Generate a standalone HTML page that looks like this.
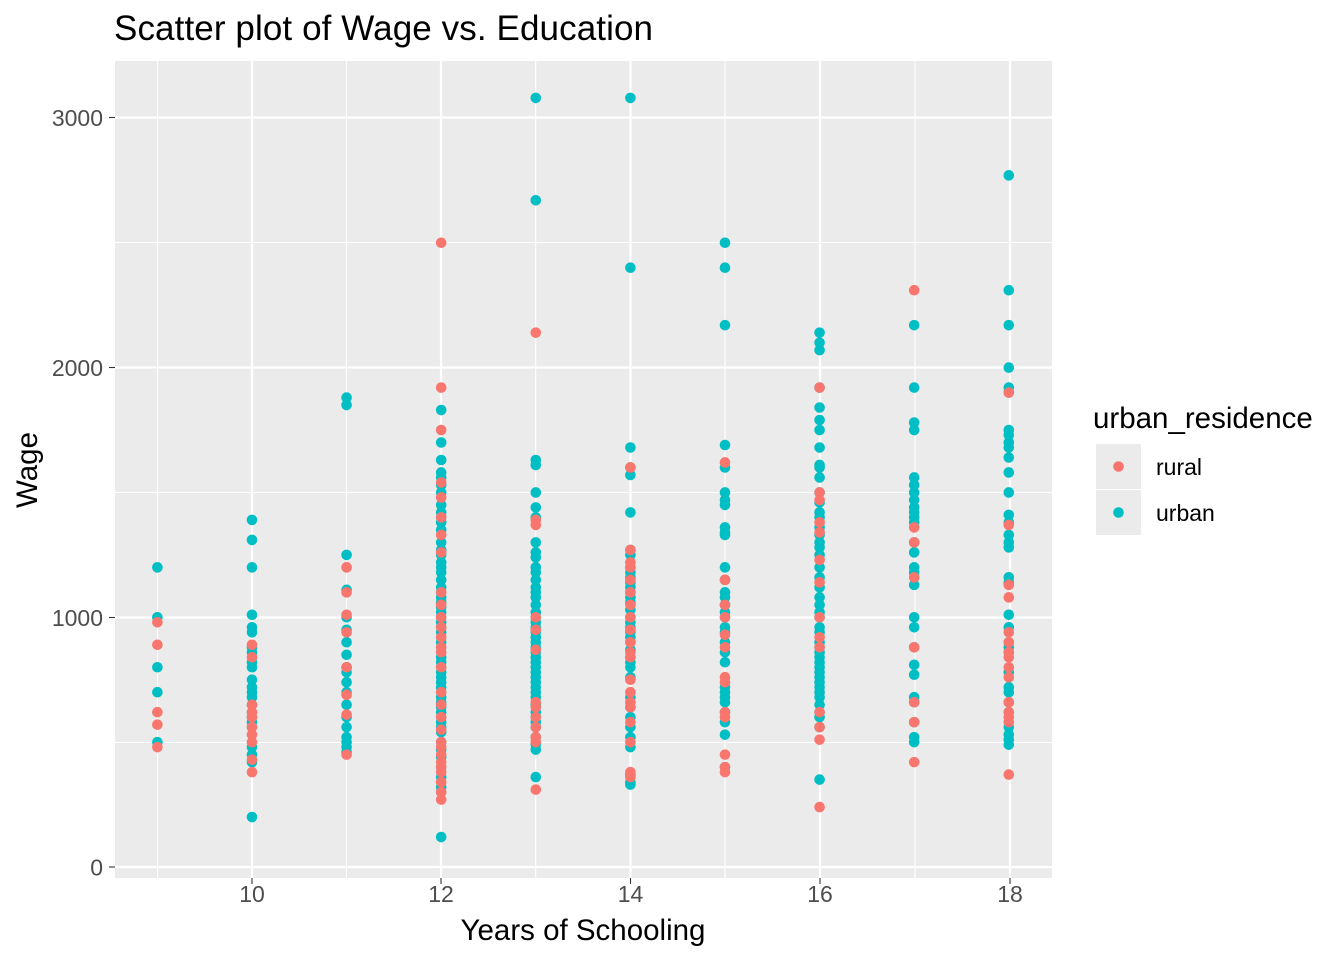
<!DOCTYPE html>
<html><head><meta charset="utf-8"><style>
body{margin:0;background:#fff;}
svg text{font-family:"Liberation Sans",Arial,sans-serif;}
</style></head><body>
<svg id="s" width="1344" height="960" xmlns="http://www.w3.org/2000/svg">
<rect x="0" y="0" width="1344" height="960" fill="#fff"/>
<text x="114" y="40" font-size="35" textLength="539" fill="#000">Scatter plot of Wage vs. Education</text>
<rect x="115" y="61" width="937" height="817" fill="#EBEBEB"/>
<g stroke="#fff" stroke-width="1.1">
<line x1="115" x2="1052" y1="742.5" y2="742.5"/><line x1="115" x2="1052" y1="492.5" y2="492.5"/><line x1="115" x2="1052" y1="242.5" y2="242.5"/>
<line x1="157.5" x2="157.5" y1="61" y2="878"/><line x1="346.5" x2="346.5" y1="61" y2="878"/><line x1="535.7" x2="535.7" y1="61" y2="878"/><line x1="725" x2="725" y1="61" y2="878"/><line x1="915" x2="915" y1="61" y2="878"/>
</g>
<g stroke="#fff" stroke-width="2.2">
<line x1="115" x2="1052" y1="867" y2="867"/><line x1="115" x2="1052" y1="617.5" y2="617.5"/><line x1="115" x2="1052" y1="367.5" y2="367.5"/><line x1="115" x2="1052" y1="117.5" y2="117.5"/>
<line x1="252" x2="252" y1="61" y2="878"/><line x1="441" x2="441" y1="61" y2="878"/><line x1="630.5" x2="630.5" y1="61" y2="878"/><line x1="820" x2="820" y1="61" y2="878"/><line x1="1010" x2="1010" y1="61" y2="878"/>
</g>
<g stroke="#333" stroke-width="1.1">
<line x1="109" x2="115" y1="867" y2="867"/><line x1="109" x2="115" y1="617.5" y2="617.5"/><line x1="109" x2="115" y1="367.5" y2="367.5"/><line x1="109" x2="115" y1="117.5" y2="117.5"/>
<line x1="252" x2="252" y1="878" y2="884"/><line x1="441" x2="441" y1="878" y2="884"/><line x1="630.5" x2="630.5" y1="878" y2="884"/><line x1="820" x2="820" y1="878" y2="884"/><line x1="1010" x2="1010" y1="878" y2="884"/>
</g>
<g font-size="23" fill="#4d4d4d" text-anchor="end">
<text x="103" y="875.5">0</text><text x="103" y="626">1000</text><text x="103" y="376">2000</text><text x="103" y="126">3000</text>
</g>
<g font-size="23" fill="#4d4d4d" text-anchor="middle">
<text x="252" y="902">10</text><text x="441" y="902">12</text><text x="630.5" y="902">14</text><text x="820" y="902">16</text><text x="1010" y="902">18</text>
</g>
<text x="583" y="940" font-size="29.5" text-anchor="middle">Years of Schooling</text>
<text transform="translate(37,470) rotate(-90)" font-size="29.5" text-anchor="middle">Wage</text>
<text x="1093" y="428" font-size="29.5">urban_residence</text>
<rect x="1096" y="444" width="45" height="45" fill="#EBEBEB"/>
<rect x="1096" y="490" width="45" height="45" fill="#EBEBEB"/>
<circle cx="1118.5" cy="466.5" r="5.3" fill="#F8766D"/>
<circle cx="1118.5" cy="512.5" r="5.3" fill="#00BFC4"/>
<text x="1156" y="475" font-size="23">rural</text>
<text x="1156" y="521" font-size="23">urban</text>
<g id="pts"></g>
</svg>
<script>
var U={9:[1200,1000,800,700,500],10:[1390,1310,1200,1010,960,940,880,860,820,800,750,720,700,680,650,620,600,580,560,480,450,420,200],11:[1880,1850,1250,1110,1000,950,900,850,800,780,740,700,650,600,560,520,500,480,460],12:[1830,1700,1630,1580,1560,1530,1500,1450,1420,1400,1380,1350,1300,1270,1250,1220,1200,1180,1150,1120,1100,1080,1060,1040,1020,1000,980,960,940,920,900,880,860,840,820,800,780,760,740,720,700,680,660,640,620,600,580,560,540,500,470,440,400,360,320,300,120],13:[3080,2670,1630,1610,1500,1440,1400,1300,1260,1240,1200,1180,1150,1120,1100,1080,1050,1020,1000,980,960,940,920,900,880,860,840,820,800,780,760,740,720,700,680,650,620,600,580,560,520,490,470,360],14:[3080,2400,1680,1600,1570,1420,1270,1250,1200,1180,1160,1140,1120,1100,1080,1060,1030,1000,980,960,940,920,900,870,840,820,800,760,680,640,600,560,520,480,370,340,330],15:[2500,2400,2170,1690,1600,1500,1470,1450,1360,1340,1330,1200,1150,1100,1080,1050,1020,1000,960,940,900,860,820,720,700,680,660,620,580,530,400],16:[2140,2100,2070,1920,1840,1790,1750,1680,1610,1600,1560,1500,1460,1420,1400,1360,1330,1300,1280,1250,1200,1160,1120,1080,1050,1020,1000,960,940,900,880,860,840,820,800,780,760,740,720,700,680,650,620,600,560,350],17:[2170,1920,1780,1750,1560,1530,1500,1470,1440,1420,1400,1380,1300,1260,1200,1180,1130,1000,960,880,810,770,680,660,580,520,500],18:[2770,2310,2170,2000,1920,1900,1750,1730,1700,1680,1640,1580,1500,1410,1380,1330,1300,1280,1160,1140,1010,960,900,880,860,780,720,700,660,620,560,530,510,490]};
var R={9:[980,890,620,570,480],10:[890,840,650,620,600,560,530,500,430,380],11:[1200,1100,1010,940,800,690,610,450],12:[2500,1920,1750,1540,1480,1400,1330,1260,1100,1050,1000,960,920,880,860,800,700,650,600,550,500,480,450,420,400,380,340,300,270],13:[2140,1390,1370,1000,950,870,660,640,600,560,520,500,310],14:[1600,1270,1220,1200,1150,1100,1050,1000,950,900,860,840,750,700,660,640,580,500,380,360],15:[1620,1150,1050,1000,930,880,760,740,620,600,450,400,380],16:[1920,1500,1470,1380,1340,1230,1140,1000,920,880,620,560,510,240],17:[2310,1360,1300,1160,880,660,580,420],18:[1900,1370,1130,1080,940,900,860,840,800,760,660,620,600,580,370]};
var g=document.getElementById('pts'),ns='http://www.w3.org/2000/svg';
function X(e){return 252+(e-10)*94.6;}function Y(w){return 867-w*0.2497;}
function add(D,c){for(var k in D){D[k].forEach(function(w){var e=document.createElementNS(ns,'circle');e.setAttribute('cx',X(+k));e.setAttribute('cy',Y(w));e.setAttribute('r',5.3);e.setAttribute('fill',c);g.appendChild(e);});}}
add(U,'#00BFC4');add(R,'#F8766D');
</script>
</body></html>
